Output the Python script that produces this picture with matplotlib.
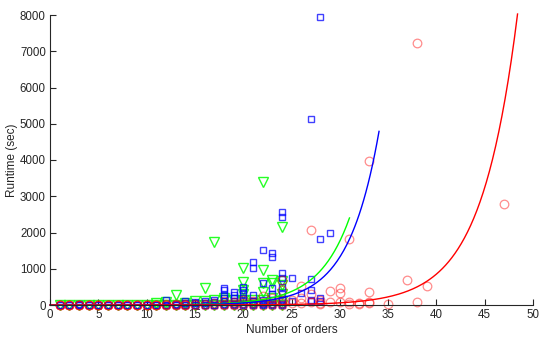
import numpy as np
import matplotlib
matplotlib.use('Agg')
import matplotlib.pyplot as plt

plt.rcParams['font.family'] = ['Liberation Sans', 'DejaVu Sans']

# red circles
red_x = [1,2,3,4,5,6,7,8,9,10,11,12,13,14,15,16,17,18,18,19,19,20,20,21,21,22,22,23,23,24,24,24,24,
         25,25,26,26,26,27,27,27,28,28,28,29,29,30,30,30,31,31,31,32,32,33,33,33,33,35,37,38,38,39,47,
         1,2,3,4,5,6,7,8,9,10,11,12,13,14,15,16,17,18,19,20,21,22,23,24,
         1,2,3,4,5,6,7,8,9,10,11,12,13,14]
red_y = [5,5,5,5,5,5,5,5,5,10,10,15,20,20,30,40,50,30,100,40,80,60,150,50,120,80,250,60,200,50,150,410,690,
         60,150,60,200,520,2070,90,300,30,60,150,70,390,80,330,460,20,80,1820,40,60,50,90,360,3970,40,690,7230,80,520,2800,
         0,0,0,0,0,0,0,0,0,0,0,0,0,0,0,0,0,0,0,0,0,0,0,0,
         10,10,10,10,10,10,10,10,10,10,10,10,10,10]

# blue squares
blue_x = [1,2,3,3,4,5,6,7,8,9,10,11,
          12,12,13,13,14,14,14,15,15,15,16,16,16,17,17,17,
          18,18,18,18,18,18,19,19,19,19,19,20,20,20,20,20,20,
          21,21,21,21,21,22,22,22,22,22,23,23,23,23,23,23,
          24,24,24,24,24,24,24,24,25,25,26,27,27,27,27,27,28,28,28,28,29,
          1,2,3,4,5,6,7,8,9,10,11,12,13,14,15,16,17,18,19,20,21,22,23,24]
blue_y = [0,0,0,20,0,0,0,0,0,0,0,0,
          0,140,0,40,0,60,100,0,50,80,0,60,120,0,80,150,
          0,100,180,280,410,470,0,100,200,280,360,0,100,180,300,420,500,
          0,120,270,1020,1190,0,50,150,620,1520,0,150,300,460,1330,1430,
          0,150,300,500,740,870,2430,2570,100,740,330,100,150,410,710,5130,100,200,1820,7940,2000,
          10,10,10,10,10,10,10,10,10,10,10,10,10,10,10,10,10,20,20,20,20,20,20,20]

# green triangles
green_x = [1,2,3,4,5,6,7,8,9,10,11,11,12,12,13,13,14,14,15,15,16,16,16,17,17,17,
           18,18,18,19,19,20,20,20,20,20,20,21,21,21,22,22,22,22,22,22,
           23,23,23,23,24,24,24,24,24,24]
green_y = [0,0,0,0,0,0,0,0,0,0,0,50,0,80,0,280,0,60,0,100,0,100,460,0,150,1740,
           0,140,200,0,150,0,150,300,410,640,1010,0,50,150,0,150,360,600,960,3400,
           0,200,600,700,0,100,300,550,650,2150]

# exponential fits y = a*exp(b*x), drawn up to x_end
red_fit = (0.0196, 0.267, 48.4)
blue_fit = (0.098, 0.317, 34.06)
green_fit = (0.161, 0.31, 31.0)

fig = plt.figure(figsize=(5.39, 3.40), dpi=100)
ax = fig.add_axes([50/539, 35/340, 483/539, 290/340])

ax.plot(green_x, green_y, 'v', ms=6.5, mfc='none', mec='#00ff00', mew=1.0, alpha=0.85, clip_on=False)
ax.plot(blue_x, blue_y, 's', ms=5.0, mfc='none', mec='blue', mew=1.0, alpha=0.75, clip_on=False)
ax.plot(red_x, red_y, 'o', ms=6.2, mfc='none', mec='red', mew=0.9, alpha=0.45, clip_on=False)

for (a, b, xe), col in [(green_fit, '#00ff00'), (blue_fit, 'blue'), (red_fit, 'red')]:
    xx = np.linspace(0, xe, 300)
    ax.plot(xx, a*np.exp(b*xx), color=col, lw=1.0, clip_on=False)

ax.set_xlim(0, 50)
ax.set_ylim(0, 8000)
ax.set_xticks(range(0, 51, 5))
ax.set_yticks(range(0, 8001, 1000))
ax.spines['top'].set_visible(False)
ax.spines['right'].set_visible(False)
for s in ['left', 'bottom']:
    ax.spines[s].set_color('#262626')
    ax.spines[s].set_linewidth(0.8)
ax.tick_params(direction='in', length=4, width=0.8, colors='#262626', labelsize=8.3, pad=3)
ax.set_xlabel('Number of orders', fontsize=8.5, color='#262626', labelpad=2)
ax.set_ylabel('Runtime (sec)', fontsize=8.5, color='#262626', labelpad=1)

fig.savefig('out.png', dpi=100)
